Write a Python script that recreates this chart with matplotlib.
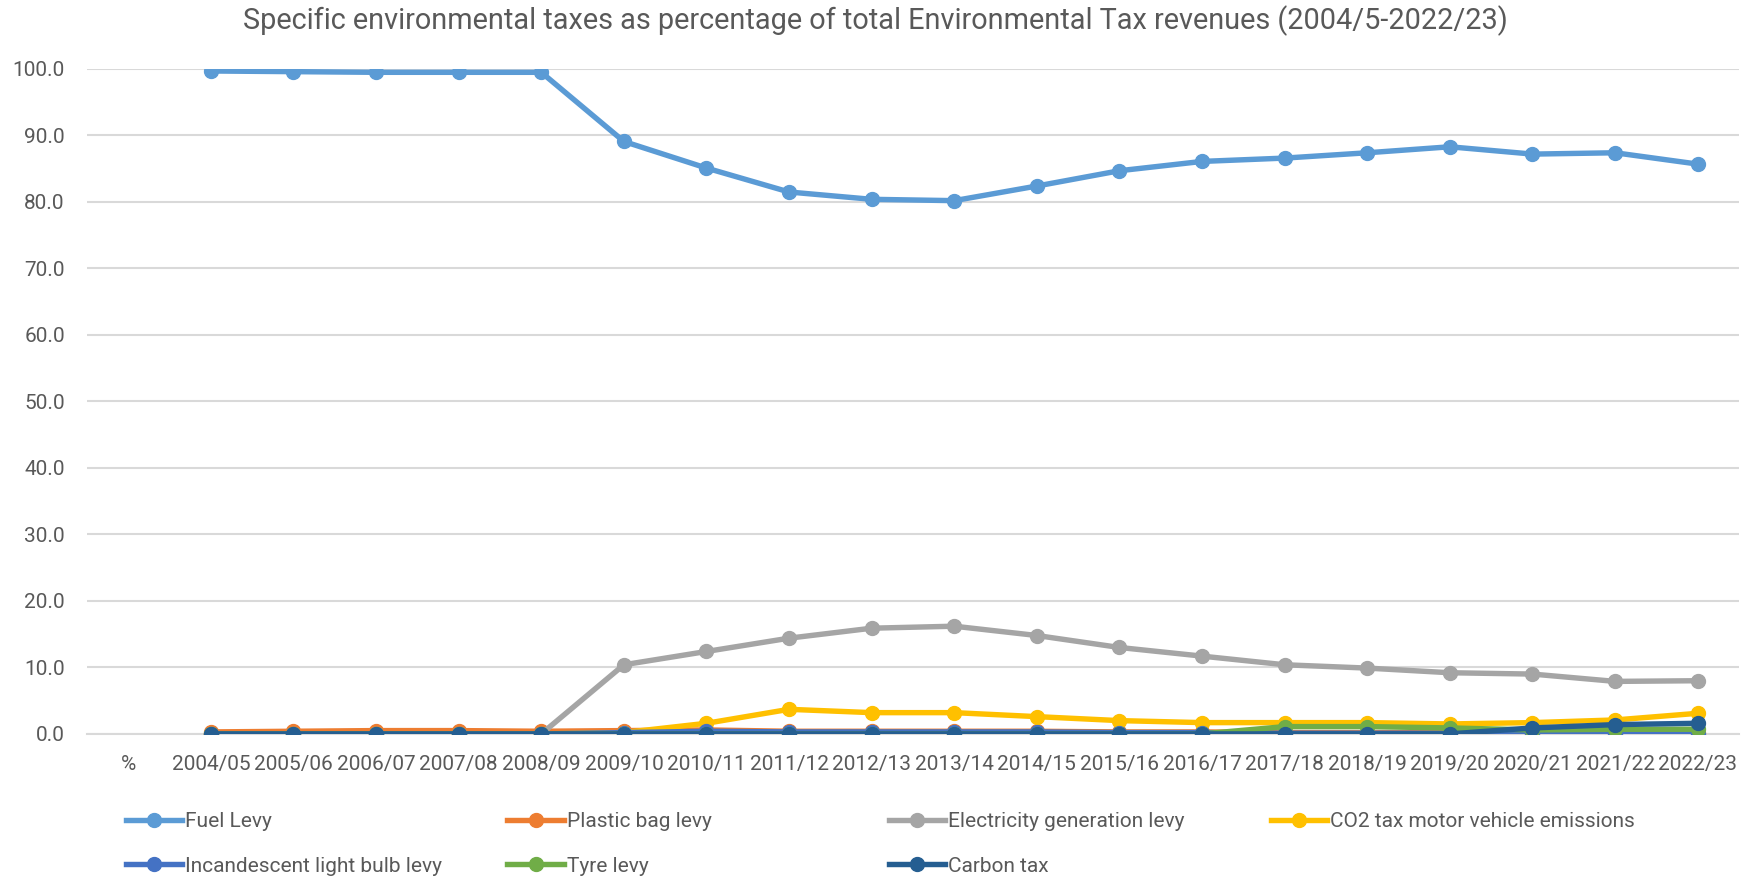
import matplotlib
matplotlib.use("Agg")
import matplotlib.pyplot as plt
import numpy as np

nan = np.nan
categories = ["%", "2004/05", "2005/06", "2006/07", "2007/08", "2008/09", "2009/10",
              "2010/11", "2011/12", "2012/13", "2013/14", "2014/15", "2015/16",
              "2016/17", "2017/18", "2018/19", "2019/20", "2020/21", "2021/22", "2022/23"]

fuel_levy = [nan, 99.7, 99.6, 99.5, 99.5, 99.5, 89.1, 85.1, 81.5, 80.4, 80.2,
             82.4, 84.7, 86.1, 86.6, 87.4, 88.3, 87.2, 87.4, 85.7]
plastic_bag = [nan, 0.3, 0.4, 0.5, 0.5, 0.4, 0.5, 0.6, 0.4, 0.4, 0.4,
               0.4, 0.3, 0.3, 0.2, 0.2, 0.2, 0.2, 0.2, 0.2]
electricity = [nan, 0.0, 0.0, 0.0, 0.0, 0.0, 10.4, 12.4, 14.4, 15.9, 16.2,
               14.8, 13.0, 11.7, 10.4, 9.9, 9.2, 9.0, 7.9, 8.0]
co2_vehicle = [nan, 0.0, 0.0, 0.0, 0.0, 0.0, 0.2, 1.6, 3.7, 3.2, 3.2,
               2.6, 2.0, 1.7, 1.7, 1.7, 1.5, 1.7, 2.1, 3.1]
light_bulb = [nan, 0.0, 0.0, 0.0, 0.0, 0.0, 0.2, 0.4, 0.3, 0.3, 0.3,
              0.3, 0.2, 0.2, 0.1, 0.1, 0.1, 0.0, 0.0, 0.0]
tyre = [nan, 0.0, 0.0, 0.0, 0.0, 0.0, 0.0, 0.0, 0.0, 0.0, 0.0,
        0.0, 0.0, 0.0, 1.1, 1.1, 0.9, 0.6, 0.7, 0.7]
carbon_tax = [nan, 0.0, 0.0, 0.0, 0.0, 0.0, 0.0, 0.0, 0.0, 0.0, 0.0,
              0.0, 0.0, 0.0, 0.0, 0.0, 0.0, 0.9, 1.4, 1.6]

series = [
    ("Fuel Levy", fuel_levy, "#5B9BD5"),
    ("Plastic bag levy", plastic_bag, "#ED7D31"),
    ("Electricity generation levy", electricity, "#A5A5A5"),
    ("CO2 tax motor vehicle emissions", co2_vehicle, "#FFC000"),
    ("Incandescent light bulb levy", light_bulb, "#4472C4"),
    ("Tyre levy", tyre, "#70AD47"),
    ("Carbon tax", carbon_tax, "#255E91"),
]

text_color = "#595959"
plt.rcParams["font.family"] = ["Roboto", "DejaVu Sans"]

fig = plt.figure(figsize=(17.5, 8.8), dpi=100)
ax = fig.add_axes([0.0497, 0.166, 0.944, 0.7556])

x = np.arange(len(categories))
handles = []
for i, (name, vals, color) in enumerate(series):
    (ln,) = ax.plot(x, vals, color=color, lw=3.9, marker="o", ms=10,
                    zorder=3 + i, solid_joinstyle="round", label=name)
    handles.append(ln)

ax.set_xlim(-0.5, len(categories) - 0.5)
ax.set_ylim(0, 100)
ax.set_yticks(np.arange(0, 101, 10))
ax.set_yticklabels([f"{v:.1f}" for v in np.arange(0, 101, 10)])
ax.set_xticks(x)
ax.set_xticklabels(categories)
ax.yaxis.grid(True, color="#D9D9D9", lw=1.5, zorder=0)
ax.set_axisbelow(True)
for side in ["left", "right", "top"]:
    ax.spines[side].set_visible(False)
ax.spines["bottom"].set_color("#D9D9D9")
ax.spines["bottom"].set_linewidth(1.5)
ax.tick_params(axis="both", length=0, labelsize=15, colors=text_color)
ax.tick_params(axis="y", pad=16)
ax.tick_params(axis="x", pad=15)

fig.text(0.5, 0.976, "Specific environmental taxes as percentage of total Environmental Tax revenues (2004/5-2022/23)",
         ha="center", va="center", fontsize=20.8, color=text_color)

# legend: four columns, two rows, equally spaced like the spreadsheet chart
col_x = [0.072, 0.290, 0.508, 0.726]
cols = [[0, 4], [1, 5], [2, 6], [3]]
for cx, idx in zip(col_x, cols):
    fig.legend([handles[k] for k in idx], [series[k][0] for k in idx],
               loc="upper left", bbox_to_anchor=(cx, 0.077),
               frameon=False, fontsize=15, handlelength=2.7,
               handletextpad=0.15, labelspacing=1.22, borderaxespad=0,
               borderpad=0, labelcolor=text_color)

fig.savefig("out.png", dpi=100)
